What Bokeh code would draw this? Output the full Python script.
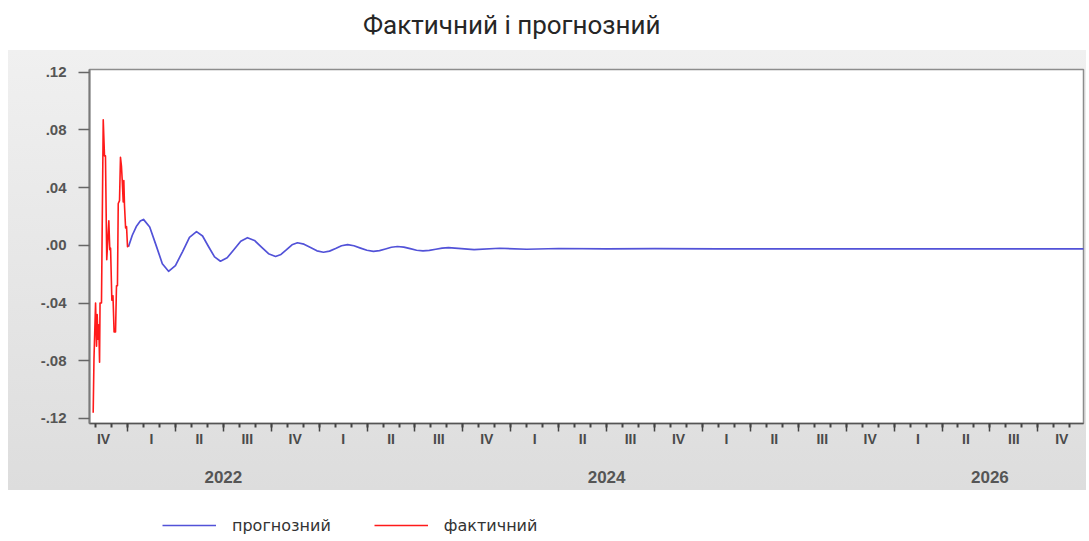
from bokeh.plotting import figure
from bokeh.models import (Div, FixedTicker, LinearAxis, Legend, LegendItem, Range1d)
from bokeh.layouts import column
from bokeh.embed import file_html
from bokeh.resources import INLINE

# x is measured in months from 1 Oct 2021
title_text = "Фактичний і прогнозний"
actual_name = "фактичний"
forecast_name = "прогнозний"

# actual series (end of 2021)
red_t = [0.85, 0.90, 1.00, 1.06, 1.10, 1.15, 1.20, 1.25, 1.28, 1.37,
         1.48, 1.56, 1.62, 1.67, 1.70, 1.77, 1.83, 1.89, 1.94, 2.02,
         2.09, 2.16, 2.25, 2.31, 2.37, 2.42, 2.50, 2.56, 2.62, 2.67,
         2.73, 2.77, 2.81, 2.88, 2.94, 3.00, 3.06]
red_v = [-0.116, -0.079, -0.040, -0.070, -0.048, -0.065, -0.055, -0.081, -0.040, -0.040,
         0.087, 0.062, 0.062, 0.016, -0.010, 0.005, 0.017, -0.003, -0.002, -0.038,
         -0.035, -0.060, -0.060, -0.028, -0.028, 0.029, 0.031, 0.061, 0.055, 0.045,
         0.030, 0.045, 0.028, 0.012, 0.013, -0.001, 0.000]

# forecast series (2022 - 2026)
blue_t = [3.06, 3.30, 3.55, 3.80, 4.00, 4.39, 4.79, 5.18, 5.57, 6.00,
          6.45, 6.88, 7.32, 7.70, 8.07, 8.45, 8.82, 9.24, 9.67, 10.09,
          10.51, 10.95, 11.39, 11.83, 12.27, 12.61, 12.96, 13.30, 13.64, 14.05,
          14.46, 14.86, 15.27, 15.65, 16.03, 16.40, 16.78, 17.18, 17.59, 17.99,
          18.40, 18.78, 19.15, 19.52, 19.90, 20.30, 20.70, 21.10, 21.50, 21.90,
          22.30, 22.70, 23.10, 24.70, 26.30, 28.00, 30.00, 33.00, 36.00, 40.00,
          45.00, 50.00, 55.00, 62.90]
blue_v = [-0.001, 0.007, 0.013, 0.0168, 0.018, 0.0127, 0.0, -0.0127, -0.018, -0.014,
          -0.0043, 0.0055, 0.0095, 0.0065, -0.0008, -0.008, -0.011, -0.0086, -0.0029, 0.0029,
          0.0053, 0.0034, -0.0012, -0.0058, -0.0077, -0.0063, -0.0030, 0.0004, 0.0018, 0.0008,
          -0.0015, -0.0038, -0.0048, -0.0040, -0.0022, -0.0003, 0.0005, -0.0003, -0.0019, -0.0034,
          -0.0042, -0.0037, -0.0025, -0.0013, -0.0008, -0.0012, -0.0023, -0.0034, -0.0038, -0.0035,
          -0.0027, -0.0019, -0.0016, -0.0030, -0.0020, -0.0027, -0.0022, -0.0025, -0.0023, -0.0024,
          -0.0024, -0.0024, -0.0024, -0.0024]

y_ticks = [-0.12, -0.08, -0.04, 0.0, 0.04, 0.08, 0.12]
y_tick_labels = ["-.12", "-.08", "-.04", ".00", ".04", ".08", ".12"]

quarter_labels = ["IV", "I", "II", "III", "IV", "I", "II", "III", "IV", "I", "II",
                  "III", "IV", "I", "II", "III", "IV", "I", "II", "III", "IV"]
year_labels = ["2022", "2024", "2026"]
year_centers = [9, 33, 57]

X_START, X_END = 0.62, 62.86

title = Div(text=title_text, width=726, height=40, margin=(10, 0, 0, 363),
            styles={"font-family": "Roboto", "font-size": "26px", "color": "#262626",
                    "line-height": "30px", "white-space": "nowrap"})

p = figure(width=1078, height=440, output_backend="svg", toolbar_location=None,
           x_range=Range1d(X_START, X_END), y_range=Range1d(-0.1235, 0.1219),
           min_border_left=81, min_border_right=3, min_border_top=19, min_border_bottom=67,
           margin=(0, 0, 0, 8))
p.border_fill_color = None
p.styles = {"background": "linear-gradient(to bottom, #f0f0f0, #dddddd)"}
p.background_fill_color = "white"
p.outline_line_color = "#8c8c8c"
p.outline_line_width = 1.5
p.xgrid.visible = False
p.ygrid.visible = False

# y axis
yax = p.yaxis[0]
yax.ticker = FixedTicker(ticks=y_ticks, minor_ticks=[])
yax.major_label_overrides = dict(zip(y_ticks, y_tick_labels))
yax.major_tick_in = 0
yax.major_tick_out = 11
yax.major_tick_line_color = "#666666"
yax.major_tick_line_width = 1.5
yax.axis_line_color = "#7a7a7a"
yax.axis_line_width = 2
yax.major_label_standoff = 12
yax.major_label_text_font = "Liberation Sans"
yax.major_label_text_font_style = "bold"
yax.major_label_text_font_size = "15px"
yax.major_label_text_color = "#555555"

# x axis: quarter boundaries and monthly ticks
month_ticks = list(range(1, 63))
quarter_bounds = list(range(3, 63, 3))
xax = p.xaxis[0]
xax.ticker = FixedTicker(ticks=quarter_bounds, minor_ticks=month_ticks)
xax.major_tick_in = 0
xax.major_tick_out = 8
xax.minor_tick_in = 0
xax.minor_tick_out = 4
xax.major_tick_line_color = "#444444"
xax.major_tick_line_width = 1.5
xax.minor_tick_line_color = "#444444"
xax.minor_tick_line_width = 2
xax.axis_line_color = "#555555"
xax.axis_line_width = 1.5
xax.major_label_text_font_size = "0px"
xax.major_label_text_alpha = 0
xax.major_label_standoff = 0

# quarter names under each quarter
q_centers = [1.5 + 3 * i for i in range(len(quarter_labels))]
qax = LinearAxis(ticker=FixedTicker(ticks=q_centers, minor_ticks=[]),
                 major_label_overrides=dict(zip(q_centers, quarter_labels)))
qax.axis_line_color = None
qax.major_tick_line_color = None
qax.major_tick_out = 0
qax.major_tick_in = 0
qax.major_label_standoff = -1
qax.major_label_text_font = "Liberation Sans"
qax.major_label_text_font_style = "bold"
qax.major_label_text_font_size = "14px"
qax.major_label_text_color = "#4a4a4a"
p.add_layout(qax, "below")

# year names
yrax = LinearAxis(ticker=FixedTicker(ticks=year_centers, minor_ticks=[]),
                  major_label_overrides=dict(zip(year_centers, year_labels)))
yrax.axis_line_color = None
yrax.major_tick_line_color = None
yrax.major_tick_out = 0
yrax.major_tick_in = 0
yrax.major_label_standoff = 21
yrax.major_label_text_font = "Liberation Sans"
yrax.major_label_text_font_style = "bold"
yrax.major_label_text_font_size = "17px"
yrax.major_label_text_color = "#555555"
p.add_layout(yrax, "below")

BLUE = "#5252d8"
RED = "#ff1a1a"
p.line(blue_t, blue_v, line_color=BLUE, line_width=1.7, line_join="round")
p.line(red_t, red_v, line_color=RED, line_width=1.6, line_join="round")

# legend strip below the panel
lg = figure(width=1089, height=51, output_backend="svg", toolbar_location=None,
            x_range=Range1d(0, 1), y_range=Range1d(10, 11), min_border=0)
lg.axis.visible = False
lg.grid.visible = False
lg.outline_line_color = None
lg.border_fill_color = "white"
rb = lg.line(blue_t, blue_v, line_color=BLUE, line_width=1.7)
rr = lg.line(red_t, red_v, line_color=RED, line_width=1.6)
legend = Legend(items=[LegendItem(label=forecast_name, renderers=[rb]),
                       LegendItem(label=actual_name, renderers=[rr])],
                orientation="horizontal", location=(81, 6),
                glyph_width=54, glyph_height=20, label_standoff=16, spacing=43,
                padding=0, margin=0, border_line_color=None, background_fill_alpha=0,
                label_text_font="DejaVu Sans", label_text_font_size="16px",
                label_text_color="#333333")
lg.add_layout(legend)

layout = column(title, p, lg, spacing=0)
open("out.html", "w").write(file_html(layout, INLINE))
